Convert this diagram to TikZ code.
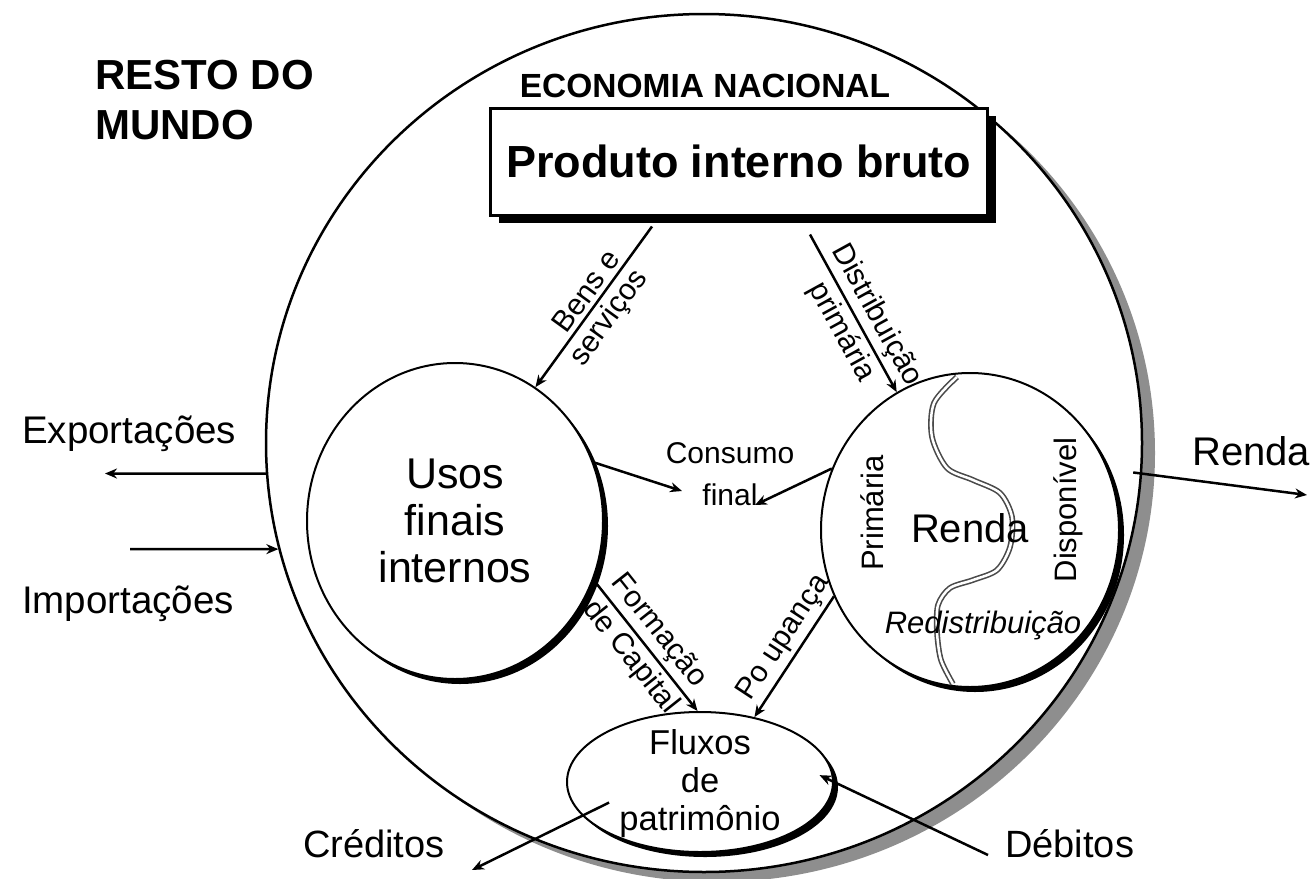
\documentclass[tikz,border=0pt]{standalone}
\usepackage{fontspec}
\setmainfont{Liberation Sans}
\usepackage{tikz}
\usetikzlibrary{
    shapes.geometric,
    arrows.meta,
    shadows,
    calc
}
\definecolor{ecoshade}{HTML}{8E8E8E}
\definecolor{ecowave}{HTML}{4A4A4A}
\tikzset{
    % Large ring of the national economy
    econring/.style={
        ellipse,
        draw=black,
        fill=white,
        line width=2.5pt,
        inner sep=0pt,
        minimum width=876pt,
        minimum height=858pt,
        copy shadow={shadow xshift=13pt, shadow yshift=-10pt, fill=ecoshade, draw=none}
    },
    % Inner account ring
    accring/.style={
        ellipse,
        draw=black,
        fill=white,
        line width=2pt,
        inner sep=0pt,
        align=center,
        copy shadow={shadow xshift=5pt, shadow yshift=-5pt, fill=black, draw=none}
    },
    % Boxed aggregate
    pibbox/.style={
        rectangle,
        draw=black,
        fill=white,
        line width=3pt,
        minimum width=497pt,
        minimum height=107pt,
        font=\fontsize{45}{50}\selectfont\bfseries,
        copy shadow={shadow xshift=9pt, shadow yshift=-8pt, fill=black, draw=none}
    },
    % Flow arrow
    flowarrow/.style={
        -{Stealth[length=12pt,width=10pt]},
        line width=2.5pt
    },
    % Label on a flow
    flowlbl/.style={
        font=\fontsize{30}{34}\selectfont,
        inner sep=4pt
    },
    % Label outside the ring
    sidelbl/.style={
        font=\fontsize{38.5}{44}\selectfont,
        inner sep=0pt
    }
}

\begin{document}
\begin{tikzpicture}[x=1pt, y=-1pt]
    \useasboundingbox (0,0) rectangle (1314,878);

    \node[econring] (econ) at (704,443) {};
    \node[pibbox] (pib) at (738.5,161.5) {Produto interno bruto};
    \node[accring, minimum width=296pt, minimum height=316pt, font=\fontsize{43}{47}\selectfont] (usos) at (455,521) {Usos\\finais\\internos};
    \node[accring, minimum width=298pt, minimum height=314pt] (renda) at (970,530) {};
    \node[accring, minimum width=266pt, minimum height=140pt] (fluxos) at (700,782) {};

    % wave splitting the income ring
    \draw[draw=ecowave, line width=1.6pt, double=white, double distance=2.5pt]
        plot[smooth] coordinates {(957,377) (934,403) (932,437) (947,468) (973,480) (1000,493)
        (1012,517) (1010,547) (997,570) (973,580) (950,588) (938,605) (937,632) (941,660) (953,684)};

    \node[font=\fontsize{40}{44}\selectfont, inner sep=0pt] (renda-lbl) at (970,528) {Renda};
    \node[flowlbl, font=\fontsize{31}{34}\selectfont, rotate=90] (prim) at (872,513) {Primária};
    \node[flowlbl, font=\fontsize{31}{34}\selectfont, rotate=90] (disp) at (1068,510) {Disponível};
    \node[flowlbl, font=\fontsize{31}{34}\selectfont\itshape] (redis) at (983,625) {Redistribuição};
    \node[font=\fontsize{34.5}{38}\selectfont, align=center, inner sep=0pt] (fluxos-lbl) at (700,784) {Fluxos\\de\\patrimônio};

    \node[font=\fontsize{42}{50}\selectfont\bfseries, anchor=west, align=left, inner sep=0pt] (resto) at (95,100) {RESTO DO\\MUNDO};
    \node[font=\fontsize{33.5}{38}\selectfont\bfseries, anchor=base, inner sep=0pt] (econ-title) at (705,97) {ECONOMIA NACIONAL};
    \node[sidelbl, anchor=base west] (exp) at (22,443) {Exportações};
    \node[sidelbl, anchor=base west] (imp) at (22,613) {Importações};
    \node[sidelbl, font=\fontsize{40}{44}\selectfont, anchor=base west] (renda-out) at (1192,465) {Renda};
    \node[sidelbl, font=\fontsize{38}{44}\selectfont, anchor=base west] (cred) at (303,857) {Créditos};
    \node[sidelbl, font=\fontsize{38}{44}\selectfont, anchor=base west] (deb) at (1005,857) {Débitos};
    \node[flowlbl, font=\fontsize{30}{42}\selectfont, align=center] (consumo) at (730,474) {Consumo\\final};

    \coordinate (bens-top) at ($(pib.south)+(-86.5,10)$);
    \coordinate (dist-top) at ($(pib.south)+(71.5,18)$);
    \coordinate (cons-l) at (682,491);
    \coordinate (cons-r) at (755,505);
    \coordinate (exp-end) at (105,473.5);
    \coordinate (imp-start) at (130,549);
    \coordinate (renda-end) at (1307,495);
    \coordinate (cred-end) at (472,870);
    \coordinate (deb-start) at (988,855);

    \draw[flowarrow] (bens-top) -- node[flowlbl, sloped, above, pos=0.46] {Bens e} node[flowlbl, sloped, below, pos=0.5] {serviços} (usos.59);
    \draw[flowarrow] (dist-top) -- node[flowlbl, sloped, above, pos=0.57] {Distribuição} node[flowlbl, sloped, below, pos=0.56] {primária} (renda.118);
    \draw[flowarrow] (usos.23) -- (cons-l);
    \draw[flowarrow] (renda.156) -- (cons-r);
    \draw[flowarrow] (usos.-23) -- node[flowlbl, sloped, above, pos=0.48] {Formação} node[flowlbl, sloped, below, pos=0.5] {de Capital} (fluxos.92);
    \draw[flowarrow] (renda.206) -- node[flowlbl, sloped, above, pos=0.43] {Po upança} (fluxos.50);
    \draw[flowarrow] (econ.184) -- (exp-end);
    \draw[flowarrow] (imp-start) -- (econ.194);
    \draw[flowarrow, shorten <=-9pt] (econ.-4) -- (renda-end);
    \draw[flowarrow, shorten <=-30pt] (fluxos.196) -- (cred-end);
    \draw[flowarrow, shorten >=-16pt] (deb-start) -- (fluxos.east);
\end{tikzpicture}
\end{document}
